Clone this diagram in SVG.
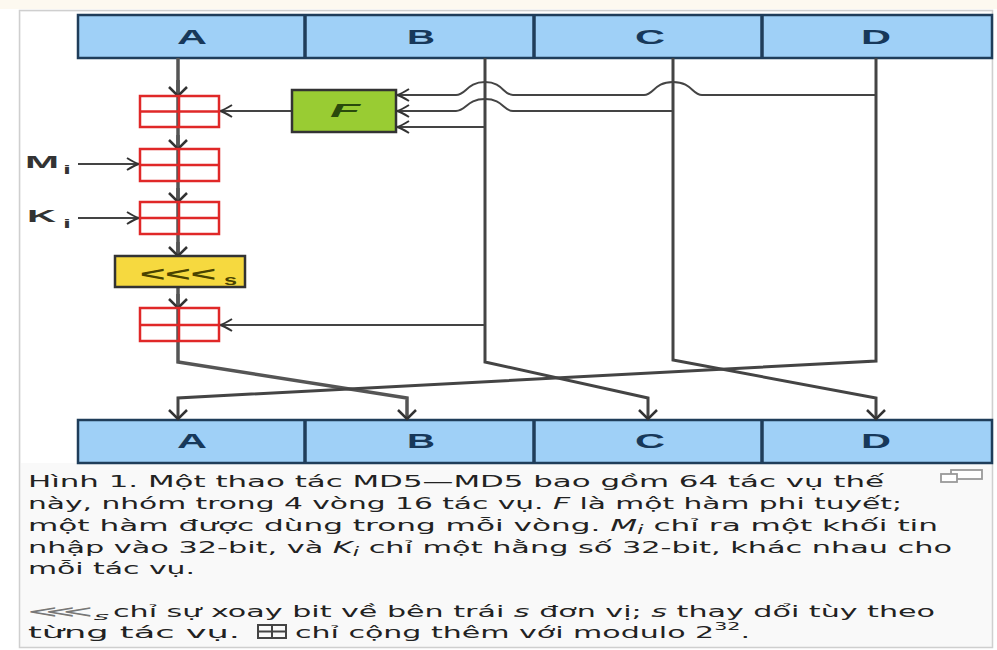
<svg xmlns="http://www.w3.org/2000/svg" width="997" height="650" viewBox="0 0 997 650">
<style>
.reg{fill:#9fd0f7;stroke:#1f3d5a;stroke-width:2.5}
.div{stroke:#1f3d5a;stroke-width:3.5}
.lbl{font-family:"Liberation Sans",Arial,sans-serif;font-size:21px;font-weight:bold;fill:#17385a;text-anchor:middle}
.add{fill:none;stroke:#e02828;stroke-width:2.5}
.main{fill:none;stroke:#555;stroke-width:3.5}
.bus{fill:none;stroke:#444;stroke-width:3}
.wire{fill:none;stroke:#444;stroke-width:2}
.side{font-family:"Liberation Sans",Arial,sans-serif;font-weight:bold;fill:#333}
.cap{font-family:"DejaVu Sans",Verdana,sans-serif;font-size:16px;fill:#222}
.it{font-style:italic}
</style>
<defs>
<marker id="ah" markerUnits="userSpaceOnUse" viewBox="-16 -10 20 20" markerWidth="20" markerHeight="20" refX="0" refY="0" orient="auto" overflow="visible">
<path d="M -12 -6 Q -4 -1 0 0 Q -4 1 -12 6" fill="none" stroke="#333" stroke-width="2"/>
</marker>
<marker id="ahd" markerUnits="userSpaceOnUse" viewBox="-16 -12 20 24" markerWidth="20" markerHeight="24" refX="0" refY="0" orient="auto" overflow="visible">
<path d="M -9 -9 Q -2 -2 0 0 Q -2 2 -9 9" fill="none" stroke="#333" stroke-width="2.5"/>
</marker>
</defs>
<rect x="0" y="0" width="997" height="650" fill="#ffffff"/>
<rect x="0" y="0" width="997" height="9" fill="#fdf9f0"/>
<rect x="19.5" y="10.5" width="973" height="637" fill="#f9f9f9" stroke="#cfcfcf" stroke-width="1.5"/>
<rect x="21" y="12" width="970" height="451" fill="#ffffff"/>

<g id="top-register">
<rect class="reg" x="78" y="15" width="914" height="43"/>
<line class="div" x1="305" y1="15" x2="305" y2="58"/>
<line class="div" x1="534" y1="15" x2="534" y2="58"/>
<line class="div" x1="762" y1="15" x2="762" y2="58"/>
<text class="lbl" x="192" y="44" textLength="30" lengthAdjust="spacingAndGlyphs">A</text>
<text class="lbl" x="421" y="44" textLength="28" lengthAdjust="spacingAndGlyphs">B</text>
<text class="lbl" x="650" y="44" textLength="30" lengthAdjust="spacingAndGlyphs">C</text>
<text class="lbl" x="876" y="44" textLength="30" lengthAdjust="spacingAndGlyphs">D</text>
</g>

<g id="bottom-register">
<rect class="reg" x="78" y="420" width="914" height="43"/>
<line class="div" x1="305" y1="420" x2="305" y2="463"/>
<line class="div" x1="534" y1="420" x2="534" y2="463"/>
<line class="div" x1="762" y1="420" x2="762" y2="463"/>
<text class="lbl" x="192" y="448" textLength="30" lengthAdjust="spacingAndGlyphs">A</text>
<text class="lbl" x="421" y="448" textLength="28" lengthAdjust="spacingAndGlyphs">B</text>
<text class="lbl" x="650" y="448" textLength="30" lengthAdjust="spacingAndGlyphs">C</text>
<text class="lbl" x="876" y="448" textLength="30" lengthAdjust="spacingAndGlyphs">D</text>
</g>

<g id="connectors">
<path class="main" d="M178 58 V362 L407 398 V419" marker-end="url(#ahd)"/>
<path class="main" d="M178 80 V96" marker-end="url(#ahd)"/>
<path class="main" d="M178 135 V149" marker-end="url(#ahd)"/>
<path class="main" d="M178 188 V202" marker-end="url(#ahd)"/>
<path class="main" d="M178 242 V256" marker-end="url(#ahd)"/>
<path class="main" d="M178 294 V308" marker-end="url(#ahd)"/>
<path class="bus" d="M485 58 V362 L648 398 V419" marker-end="url(#ahd)"/>
<path class="bus" d="M673 58 V360 L876 398 V419" marker-end="url(#ahd)"/>
<path class="bus" d="M876 58 V361 L178 398 V419" marker-end="url(#ahd)"/>
<path class="wire" d="M876 95 H702 C692 95 692 82 673 82 C654 82 654 95 644 95 H513 C503 95 503 82 485 82 C467 82 466 95 456 95 H397" marker-end="url(#ah)"/>
<path class="wire" d="M673 111 H513 C503 111 503 99 485 99 C467 99 466 111 456 111 H397" marker-end="url(#ah)"/>
<path class="wire" d="M485 127 H397" marker-end="url(#ah)"/>
<path class="wire" d="M292 111 H220" marker-end="url(#ah)"/>
<path class="wire" d="M485 325 H220" marker-end="url(#ah)"/>
<path class="wire" d="M78 164 H139" marker-end="url(#ah)"/>
<path class="wire" d="M78 218 H139" marker-end="url(#ah)"/>
</g>

<g id="add1"><rect class="add" x="140" y="96" width="79" height="31"/><path class="add" d="M140 111.5 H219 M179 96 V127"/></g>
<g id="add2"><rect class="add" x="140" y="149" width="79" height="32"/><path class="add" d="M140 165 H219 M179 149 V181"/></g>
<g id="add3"><rect class="add" x="140" y="202" width="79" height="32"/><path class="add" d="M140 218 H219 M179 202 V234"/></g>
<g id="rotate">
<rect x="115" y="256" width="130" height="31" fill="#f6d93f" stroke="#333" stroke-width="2.5"/>
<text x="140" y="281" font-family="Liberation Sans,Arial,sans-serif" font-size="21" font-weight="bold" fill="#4a4300" textLength="76" lengthAdjust="spacingAndGlyphs">&lt;&lt;&lt;</text>
<text x="224" y="285" font-family="Liberation Sans,Arial,sans-serif" font-size="14" font-weight="bold" fill="#4a4300" textLength="13" lengthAdjust="spacingAndGlyphs">s</text>
</g>
<g id="add4"><rect class="add" x="140" y="308" width="79" height="33"/><path class="add" d="M140 325 H219 M179 308 V341"/></g>

<g id="F">
<rect x="292" y="90" width="104" height="42" fill="#99cc33" stroke="#333" stroke-width="2.5"/>
<text x="330" y="117" font-family="Liberation Sans,Arial,sans-serif" font-size="19" font-weight="bold" font-style="italic" fill="#2a4a0c" textLength="30" lengthAdjust="spacingAndGlyphs">F</text>
</g>

<g id="Mi">
<text class="side" x="25" y="168" font-size="17" textLength="34" lengthAdjust="spacingAndGlyphs">M</text>
<text class="side" x="63" y="174" font-size="12" textLength="8" lengthAdjust="spacingAndGlyphs">i</text>
</g>
<g id="Ki">
<text class="side" x="27" y="222" font-size="17" textLength="29" lengthAdjust="spacingAndGlyphs">K</text>
<text class="side" x="63" y="228" font-size="12" textLength="8" lengthAdjust="spacingAndGlyphs">i</text>
</g>

<g id="caption">
<text class="cap" x="28" y="487" textLength="856" lengthAdjust="spacingAndGlyphs">Hình 1. Một thao tác MD5—MD5 bao gồm 64 tác vụ thế</text>
<text class="cap" x="28" y="509" textLength="874" lengthAdjust="spacingAndGlyphs">này, nhóm trong 4 vòng 16 tác vụ. <tspan class="it">F</tspan> là một hàm phi tuyết;</text>
<text class="cap" x="28" y="531" textLength="910" lengthAdjust="spacingAndGlyphs">một hàm được dùng trong mỗi vòng. <tspan class="it">M</tspan><tspan class="it" font-size="12" dy="3">i</tspan><tspan dy="-3"> chỉ ra một khối tin</tspan></text>
<text class="cap" x="28" y="553" textLength="924" lengthAdjust="spacingAndGlyphs">nhập vào 32-bit, và <tspan class="it">K</tspan><tspan class="it" font-size="12" dy="3">i</tspan><tspan dy="-3"> chỉ một hằng số 32-bit, khác nhau cho</tspan></text>
<text class="cap" x="28" y="574" textLength="167" lengthAdjust="spacingAndGlyphs">mỗi tác vụ.</text>
<text class="cap" x="27" y="617" textLength="82" lengthAdjust="spacingAndGlyphs"><tspan fill="#777">⋘</tspan><tspan class="it" font-size="10" dy="3">s</tspan></text>
<text class="cap" x="113" y="617" textLength="822" lengthAdjust="spacingAndGlyphs">chỉ sự xoay bit về bên trái <tspan class="it">s</tspan> đơn vị; <tspan class="it">s</tspan> thay dổi tùy theo</text>
<text class="cap" x="28" y="638" textLength="212" lengthAdjust="spacingAndGlyphs">từng tác vụ.</text>
<g fill="none" stroke="#444" stroke-width="2"><rect x="258" y="625" width="28" height="13"/><path d="M258 631.5 H286 M272 625 V638"/></g>
<text class="cap" x="295" y="638" textLength="455" lengthAdjust="spacingAndGlyphs">chỉ cộng thêm với modulo 2<tspan font-size="11" dy="-8">32</tspan><tspan dy="8">.</tspan></text>
<g fill="#fff" stroke="#999" stroke-width="1.8"><rect x="951" y="470" width="31" height="9"/><rect x="941" y="474" width="16" height="8"/></g>
</g>
</svg>
